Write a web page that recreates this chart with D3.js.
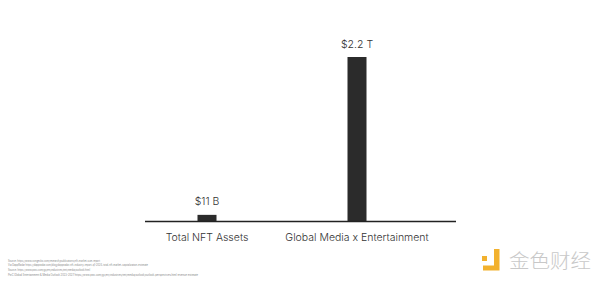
<!DOCTYPE html>
<html>
<head>
<meta charset="utf-8">
<script src="https://cdn.jsdelivr.net/npm/d3@7"></script>
<style>
  body { margin: 0; background: #fff; }
  svg { display: block; }
</style>
</head>
<body>
<div id="viz"></div>
<script>
// values in billions of USD
var categories = ['Total NFT Assets', 'Global Media x Entertainment'];
var values = [11, 2200];
var valueLabels = ['$11 B', '$2.2 T'];
var sources = [
  'Source: https://www.coingecko.com/research/publications/nft-market-size-report',
  'Via DappRadar https://dappradar.com/blog/dappradar-nft-industry-report-q1-2024-total-nft-market-capitalization-estimate',
  'Source: https://www.pwc.com/gx/en/industries/tmt/media/outlook.html',
  'PwC Global Entertainment & Media Outlook 2023-2027 https://www.pwc.com/gx/en/industries/tmt/media/outlook/outlook-perspectives.html revenue estimate'
];

var width = 600, height = 282;
var baseline = 221;

var svg = d3.select('#viz').append('svg')
  .attr('width', width)
  .attr('height', height);

var xScale = d3.scaleBand()
  .domain(categories)
  .range([132, 432]);

// compressed scale so the small bar still shows
var yScale = d3.scalePow()
  .exponent(0.62)
  .domain([0, d3.max(values)])
  .range([baseline, 57]);

var barWidth = 19;

svg.selectAll('rect.bar')
  .data(values)
  .enter().append('rect')
    .attr('class', 'bar')
    .attr('fill', '#2b2b2b')
    .attr('x', function(d, i) { return xScale(categories[i]) + xScale.bandwidth() / 2 - barWidth / 2; })
    .attr('width', barWidth)
    .attr('y', function(d) { return yScale(d); })
    .attr('height', function(d) { return baseline - yScale(d); });

svg.selectAll('text.val')
  .data(values)
  .enter().append('text')
    .attr('class', 'val')
    .attr('x', function(d, i) { return xScale(categories[i]) + xScale.bandwidth() / 2; })
    .attr('y', function(d) { return yScale(d) - 9.5; })
    .attr('text-anchor', 'middle')
    .attr('font-family', 'Inter, sans-serif')
    .attr('font-weight', 300)
    .attr('font-size', 10.5)
    .attr('fill', '#333')
    .text(function(d, i) { return valueLabels[i]; });

// axis line
svg.append('line')
  .attr('x1', 145).attr('x2', 456)
  .attr('y1', baseline + 0.5).attr('y2', baseline + 0.5)
  .attr('stroke', '#222')
  .attr('stroke-width', 1.3);

svg.selectAll('text.cat')
  .data(categories)
  .enter().append('text')
    .attr('class', 'cat')
    .attr('x', function(d) { return xScale(d) + xScale.bandwidth() / 2; })
    .attr('y', 240.5)
    .attr('text-anchor', 'middle')
    .attr('font-family', 'Inter, sans-serif')
    .attr('font-weight', 300)
    .attr('font-size', 10.5)
    .attr('fill', '#333')
    .text(function(d) { return d; });

// tiny source notes
var srcY = [261.5, 266, 271, 275.5];
var srcLen = [92, 140, 82, 190];
svg.selectAll('text.src')
  .data(sources)
  .enter().append('text')
    .attr('class', 'src')
    .attr('x', 8)
    .attr('y', function(d, i) { return srcY[i]; })
    .attr('font-family', 'Inter, sans-serif')
    .attr('font-size', 3)
    .attr('fill', '#888')
    .attr('textLength', function(d, i) { return srcLen[i]; })
    .attr('lengthAdjust', 'spacingAndGlyphs')
    .text(function(d) { return d; });

// watermark
var logo = svg.append('g');
logo.append('rect').attr('x', 482).attr('y', 256).attr('width', 5).attr('height', 5).attr('fill', '#f2b12e');
logo.append('path')
  .attr('d', 'M494,249 L499.5,249 L499.5,270.5 L483,270.5 L483,265.5 L494,265.5 Z')
  .attr('fill', '#f2b12e');
logo.append('text')
  .attr('x', 509)
  .attr('y', 268)
  .attr('font-family', '"Noto Sans CJK SC", sans-serif')
  .attr('font-weight', 300)
  .attr('font-size', 19)
  .attr('fill', '#c8c8c8')
  .attr('textLength', 82)
  .attr('lengthAdjust', 'spacingAndGlyphs')
  .text('金色财经');
</script>
</body>
</html>
